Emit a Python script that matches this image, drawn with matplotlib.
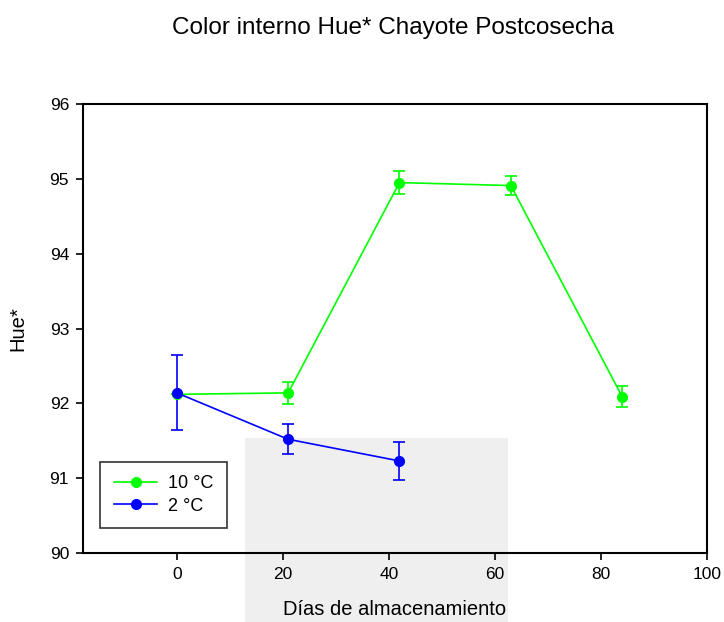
import numpy as np
import matplotlib.pyplot as plt
from matplotlib.patches import Rectangle
from matplotlib.lines import Line2D

plt.rcParams['font.family'] = ['Liberation Sans', 'DejaVu Sans']

# Días de almacenamiento y Hue* medio con su error
dias_10 = [0, 21, 42, 63, 84]
hue_10 = [92.12, 92.14, 94.95, 94.91, 92.09]
err_10 = [0.0, 0.15, 0.15, 0.13, 0.14]

dias_2 = [0, 21, 42]
hue_2 = [92.14, 91.52, 91.23]
err_2 = [0.5, 0.2, 0.25]

verde = '#00ff00'
azul = '#0000ff'

fig = plt.figure(figsize=(7.24, 6.22), dpi=100)
ax = fig.add_axes([0.1146, 0.1109, 0.8619, 0.7219])

# marca de agua gris de fondo
fig.patches.append(Rectangle((245 / 724, 0), 263 / 724, 1 - 438 / 622,
                             transform=fig.transFigure, facecolor='#efefef',
                             edgecolor='none', zorder=-1))
ax.patch.set_alpha(0)

ax.errorbar(dias_10, hue_10, yerr=err_10, color=verde, marker='o', ms=7,
            lw=1.2, capsize=4.5, capthick=1.2, elinewidth=1.2)
ax.errorbar(dias_2, hue_2, yerr=err_2, color=azul, marker='o', ms=7,
            lw=1.2, capsize=4.5, capthick=1.2, elinewidth=1.2)

ax.set_xlim(-17.7, 100)
ax.set_ylim(90, 96)
ax.set_xticks([0, 20, 40, 60, 80, 100])
ax.set_yticks([90, 91, 92, 93, 94, 95, 96])
ax.tick_params(direction='out', length=5, width=1.2, labelsize=12.5, pad=5)
for s in ax.spines.values():
    s.set_linewidth(1.5)

ax.set_xlabel('Días de almacenamiento', fontsize=14.5, labelpad=13)
ax.set_ylabel('Hue*', fontsize=14.5, labelpad=16)
fig.text(0.5435, 0.955, 'Color interno Hue* Chayote Postcosecha',
         ha='center', va='center', fontsize=17.5)

handles = [Line2D([], [], color=verde, marker='o', ms=7, lw=1.2),
           Line2D([], [], color=azul, marker='o', ms=7, lw=1.2)]
leg = ax.legend(handles, ['10 °C', '2 °C'], loc='lower left',
                bbox_to_anchor=(0.028, 0.055), fontsize=13, frameon=True,
                fancybox=False, edgecolor='black', handlelength=2.4,
                handletextpad=0.6, borderpad=0.75, labelspacing=0.3,
                borderaxespad=0)
leg.get_frame().set_linewidth(1.2)

fig.savefig('out.png', dpi=100)
